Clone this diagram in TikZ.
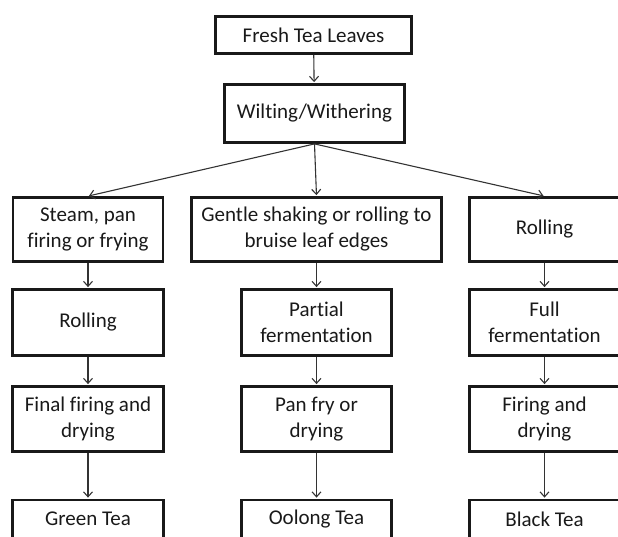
\documentclass[tikz,border=0pt]{standalone}
\usepackage{fontspec}
\setmainfont{Carlito}[Ligatures=NoCommon]
\usetikzlibrary{arrows.meta}

\begin{document}
\begin{tikzpicture}[x=1pt, y=-1pt,
    stage/.style={draw=black!90, line width=2.8pt, align=center, inner sep=2pt,
      text=black!90, font=\fontsize{21}{26}\selectfont},
    flow/.style={->, line width=1.1pt, draw=black!80, shorten >=1pt},
    >={Straight Barb[length=5pt, width=9pt]}]
  \useasboundingbox (0,0) rectangle (618,536);
  % top of the process
  \node[stage, minimum width=196, minimum height=37] (fresh) at (313.5,35) {Fresh Tea Leaves};
  \node[stage, minimum width=180, minimum height=58] (wilt) at (314.5,113.5) {Wilting/Withering};
  % first step of each branch
  \node[stage, minimum width=150, minimum height=64] (steam) at (88,229.5) {Steam, pan\\firing or frying};
  \node[stage, minimum width=250, minimum height=64] (shake) at (316.5,229.5) {Gentle shaking or rolling to\\bruise leaf edges};
  \node[stage, minimum width=150, minimum height=64] (rollB) at (544.5,229.5) {Rolling};
  % second step
  \node[stage, minimum width=151, minimum height=66] (rollG) at (88,322.5) {Rolling};
  \node[stage, minimum width=150, minimum height=66] (partial) at (316.5,322.5) {Partial\\fermentation};
  \node[stage, minimum width=150, minimum height=66] (full) at (544.5,322.5) {Full\\fermentation};
  % third step
  \node[stage, minimum width=151, minimum height=65] (fireG) at (88,419) {Final firing and\\drying};
  \node[stage, minimum width=150, minimum height=65] (panfry) at (316.5,419) {Pan fry or\\drying};
  \node[stage, minimum width=150, minimum height=65] (fireB) at (544.5,419) {Firing and\\drying};
  % products
  \node[stage, minimum width=151, minimum height=38] (green) at (88,519) {Green Tea};
  \node[stage, minimum width=150, minimum height=38] (oolong) at (316.5,519) {Oolong Tea};
  \node[stage, minimum width=150, minimum height=38] (black) at (544.5,519) {Black Tea};
  % arrows
  \draw[flow] (fresh) -- (wilt);
  \draw[flow] (wilt.south) -- (steam.north);
  \draw[flow] (wilt.south) -- (shake.north);
  \draw[flow] (wilt.south) -- (rollB.north);
  \draw[flow] (steam) -- (rollG);
  \draw[flow] (rollG) -- (fireG);
  \draw[flow] (fireG) -- (green);
  \draw[flow] (shake) -- (partial);
  \draw[flow] (partial) -- (panfry);
  \draw[flow] (panfry) -- (oolong);
  \draw[flow] (rollB) -- (full);
  \draw[flow] (full) -- (fireB);
  \draw[flow] (fireB) -- (black);
\end{tikzpicture}
\end{document}
